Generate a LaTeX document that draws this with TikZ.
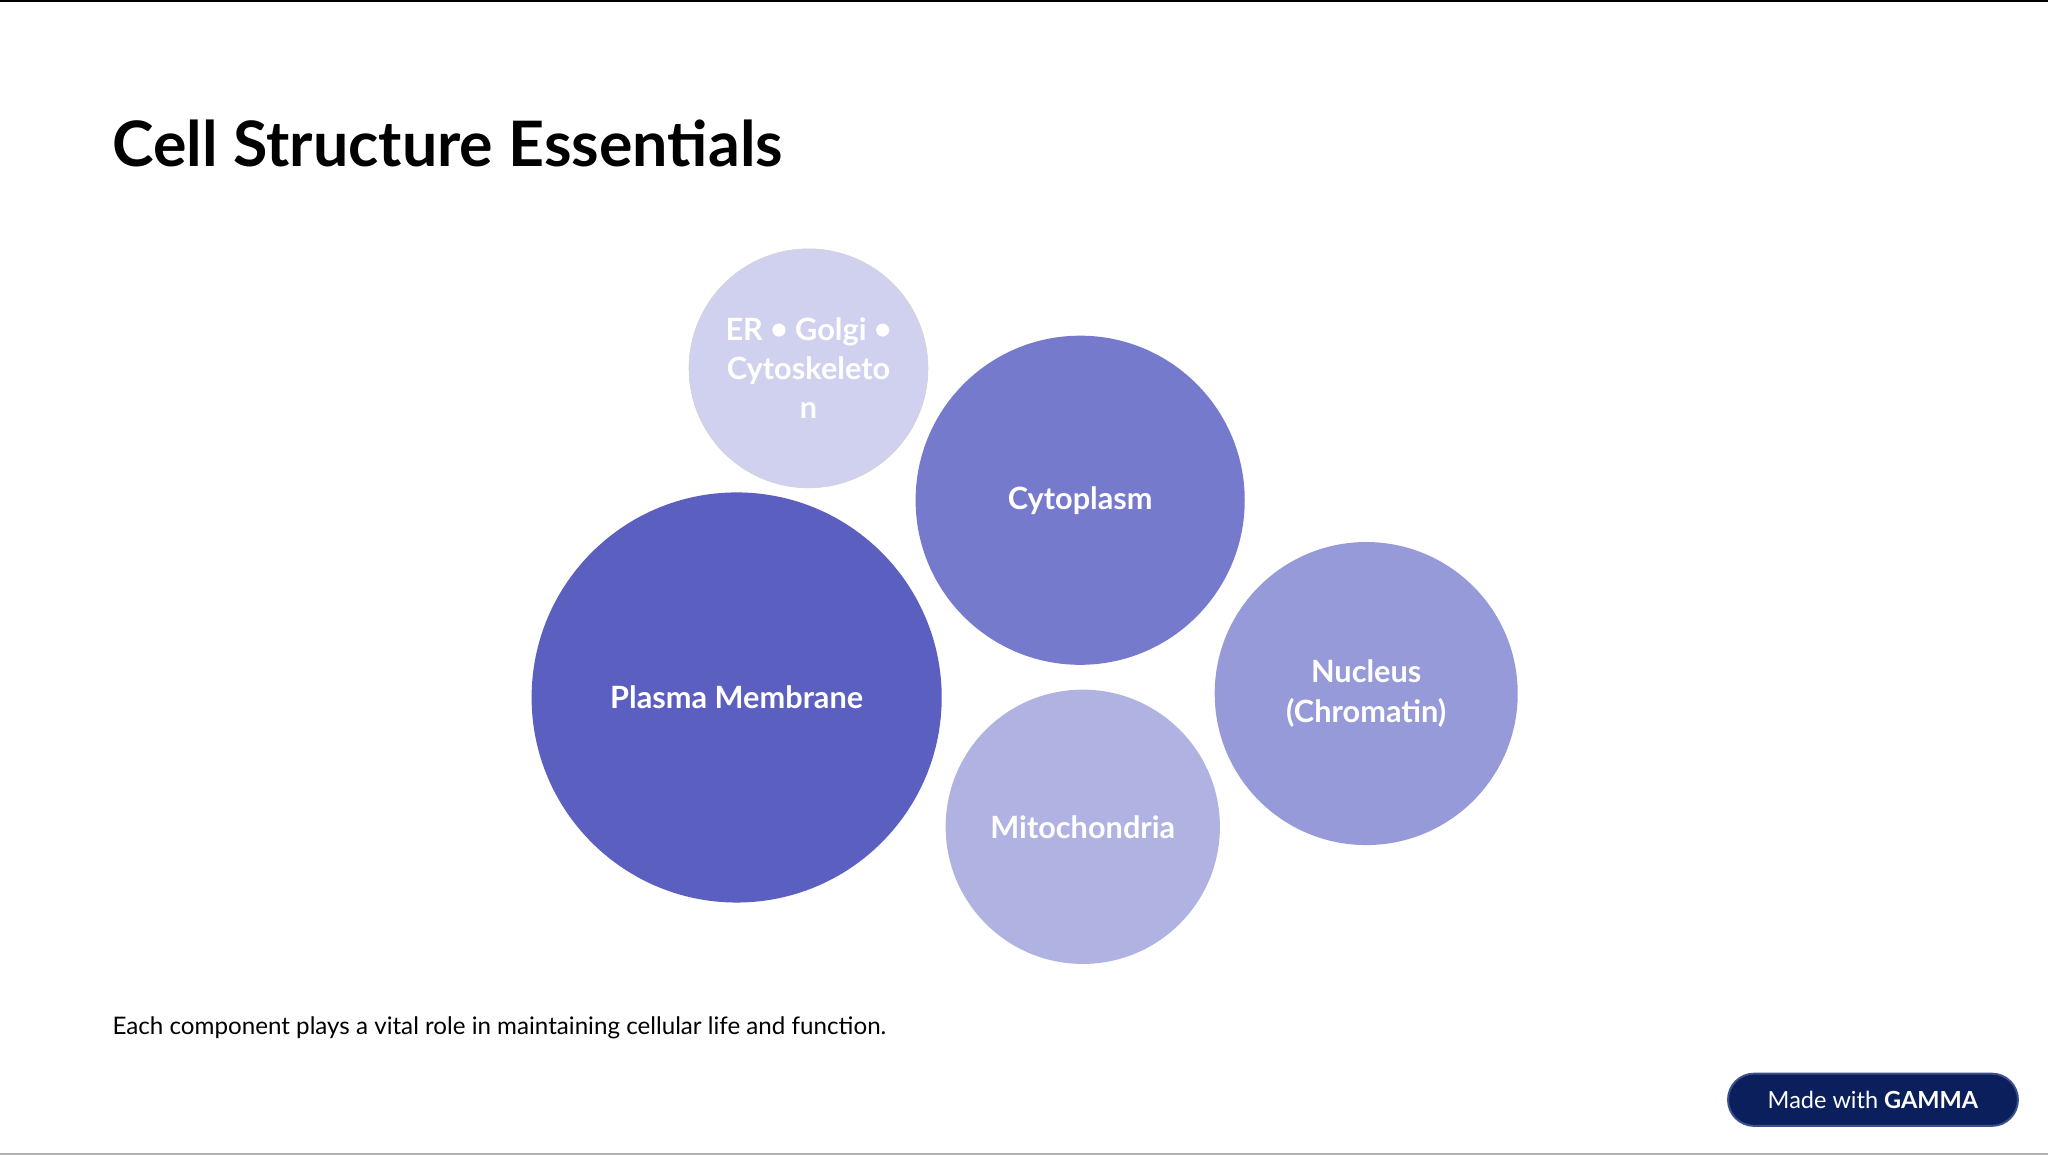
\documentclass[tikz,border=0pt]{standalone}
\usepackage{fontspec}
\setmainfont{Lato}
\newcommand{\mybul}{\raisebox{0.02em}{\fontsize{23}{23}\selectfont•}}
\begin{document}
\begin{tikzpicture}[x=1pt,y=-1pt,
 bub/.style={circle,inner sep=0pt,text=white,font=\bfseries\fontsize{23.5}{30}\selectfont,align=center}]
\useasboundingbox (0,0) rectangle (1568,884);
\fill[white] (0,0) rectangle (1568,884);
\draw[black,line width=1.5] (0,0.5) -- (1568,0.5);
\draw[gray!60,line width=1] (0,883.5) -- (1568,883.5);
\node[anchor=west,font=\bfseries\fontsize{48}{50}\selectfont,inner sep=0] (title) at (86,110) {Cell Structure Essentials};
\node[bub,fill={rgb,255:red,208;green,209;blue,238},draw=gray!35,minimum size=183pt] (er) at (619,282) {ER \mybul{} Golgi \mybul\\Cytoskeleto\\n};
\node[bub,fill={rgb,255:red,118;green,122;blue,204},minimum size=252pt] (cyto) at (827,383) {Cytoplasm};
\node[bub,fill={rgb,255:red,90;green,95;blue,192},minimum size=314pt] (pm) at (564,534) {Plasma Membrane};
\node[bub,fill={rgb,255:red,150;green,154;blue,216},minimum size=232pt] (nuc) at (1046,531) {Nucleus\\(Chromatin)};
\node[bub,fill={rgb,255:red,176;green,179;blue,226},minimum size=210pt] (mito) at (829,633) {Mitochondria};
\node[anchor=west,font=\fontsize{18.5}{20}\selectfont,inner sep=0] (foot) at (86,787) {Each component plays a vital role in maintaining cellular life and function.};
\node[draw={rgb,255:red,60;green,80;blue,140},line width=1.5,fill={rgb,255:red,10;green,31;blue,92},rounded corners=20pt,minimum width=222pt,minimum height=40pt,text=white,font=\fontsize{18}{20}\selectfont] (badge) at (1434,842) {Made with \textbf{GAMMA}};
\end{tikzpicture}
\end{document}
